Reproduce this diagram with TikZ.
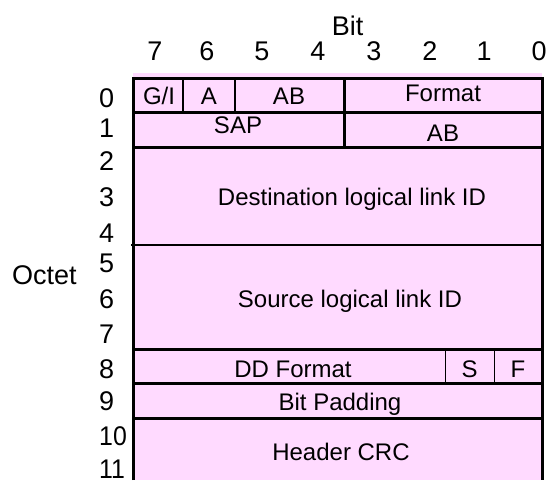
\documentclass[tikz,border=0pt]{standalone}
\usepackage{fontspec}
\usepackage{graphicx}
\setmainfont{Liberation Sans}
\definecolor{fieldpink}{RGB}{255,218,255}
\begin{document}
\begin{tikzpicture}[x=1pt,y=-1pt,
  lbl/.style={inner sep=0pt,anchor=base,font=\fontsize{27}{32}\selectfont},
  rowlbl/.style={inner sep=0pt,anchor=base west,font=\fontsize{27}{32}\selectfont},
  fld/.style={inner sep=0pt,anchor=base,font=\fontsize{24}{29}\selectfont},
  thick line/.style={line width=3pt},
  mid line/.style={line width=2pt},
  thin line/.style={line width=1pt}]
\useasboundingbox (0,0) rectangle (548,480);
% background fill
\fill[fieldpink] (133,73) rectangle (542,480);
% outer frame
\draw[thick line] (133,480) -- (133,78) -- (542,78) -- (542,480);
% horizontal separators
\foreach \yy in {112,147,349,383,418}
  \draw[thick line] (133,\yy) -- (542,\yy);
\draw[line width=1.5pt] (131,245) -- (542,245);
% vertical separators
\draw[mid line] (183,78) -- (183,112);
\draw[mid line] (235,78) -- (235,112);
\draw[thick line] (344,78) -- (344,147);
\draw[thin line] (445,349) -- (445,383);
\draw[thin line] (494,349) -- (494,383);
% titles
\node[lbl] (bit) at (347.5,35) {Bit};
\node[rowlbl] (octet) at (12,284) {Octet};
% bit numbers
\node[lbl] (b7) at (155,60) {7};
\node[lbl] (b6) at (207,60) {6};
\node[lbl] (b5) at (262,60) {5};
\node[lbl] (b4) at (318,60) {4};
\node[lbl] (b3) at (374,60) {3};
\node[lbl] (b2) at (430,60) {2};
\node[lbl] (b1) at (484,60) {1};
\node[lbl] (b0) at (539,60) {0};
% octet numbers
\node[rowlbl] (o0) at (99,107) {0};
\node[rowlbl] (o1) at (99,137) {1};
\node[rowlbl] (o2) at (99,170) {2};
\node[rowlbl] (o3) at (99,206) {3};
\node[rowlbl] (o4) at (99,242) {4};
\node[rowlbl] (o5) at (99,272) {5};
\node[rowlbl] (o6) at (99,308) {6};
\node[rowlbl] (o7) at (99,343) {7};
\node[rowlbl] (o8) at (99,378) {8};
\node[rowlbl] (o9) at (99,410) {9};
\node[rowlbl] (o10) at (99,445) {\scalebox{0.92}[1]{10}};
\node[rowlbl] (o11) at (99,478) {\scalebox{0.92}[1]{11}};
% field labels
\node[fld] (gi) at (159,104.5) {G/I};
\node[fld] (a) at (209,104.5) {A};
\node[fld] (ab0) at (289,104.5) {AB};
\node[fld] (fmt) at (443,101.5) {Format};
\node[fld] (sap) at (238,133.5) {SAP};
\node[fld] (ab1) at (443,141.5) {AB};
\node[fld] (dst) at (352,205) {Destination logical link ID};
\node[fld] (src) at (350,307) {Source logical link ID};
\node[fld] (ddf) at (293,377) {DD Format};
\node[fld] (s) at (469.5,377) {S};
\node[fld] (f) at (518,377) {F};
\node[fld] (pad) at (340,410) {Bit Padding};
\node[fld] (crc) at (341,460) {Header CRC};
\end{tikzpicture}
\end{document}
